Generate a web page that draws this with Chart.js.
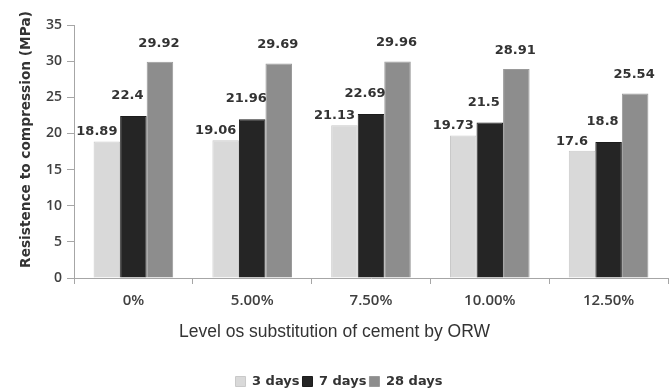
<!DOCTYPE html>
<html>
<head>
<meta charset="utf-8">
<script src="https://cdn.jsdelivr.net/npm/chart.js@4/dist/chart.umd.min.js"></script>
<style>
  html, body { margin: 0; padding: 0; background: #fff; }
  #wrap { width: 669px; height: 390px; position: relative; }
</style>
</head>
<body>
<div id="wrap"><canvas id="c"></canvas></div>
<script>
// Compressive strength by cement substitution level and curing age
const categories = ['0%', '5.00%', '7.50%', '10.00%', '12.50%'];
const seriesNames = ['3 days', '7 days', '28 days'];
const days3  = [18.89, 19.06, 21.13, 19.73, 17.6];
const days7  = [22.4, 21.96, 22.69, 21.5, 18.8];
const days28 = [29.92, 29.69, 29.96, 28.91, 25.54];
const yMin = 0, yMax = 35, yStep = 5;

const xTitle = 'Level os substitution of cement by ORW';
const yTitle = 'Resistence to compression (MPa)';

const fills   = ['#d9d9d9', '#252525', '#8d8d8d'];
const borders = ['#c9c9c9', '#1c1c1c', '#9a9a9a'];
// value label placement per series: horizontal shift and gap above bar top
const labelPlacement = [{ dx: -10, gap: 6 }, { dx: -6, gap: 17 }, { dx: -1, gap: 15 }];

const textColor = '#333333';
const axisColor = '#a6a6a6';

const valueLabels = {
  id: 'valueLabels',
  afterDatasetsDraw(chart) {
    const ctx = chart.ctx;
    ctx.save();
    ctx.font = 'bold 13px "DejaVu Sans"';
    ctx.fillStyle = textColor;
    ctx.textAlign = 'center';
    ctx.textBaseline = 'alphabetic';
    chart.data.datasets.forEach((ds, i) => {
      const meta = chart.getDatasetMeta(i);
      const p = labelPlacement[i];
      meta.data.forEach((bar, j) => {
        ctx.fillText(String(ds.data[j]), bar.x + p.dx, bar.y - p.gap);
      });
    });
    ctx.restore();
  }
};

const axisTitles = {
  id: 'axisTitles',
  afterDraw(chart) {
    const ctx = chart.ctx;
    const area = chart.chartArea;
    ctx.save();
    ctx.fillStyle = textColor;
    ctx.textAlign = 'center';
    ctx.textBaseline = 'middle';
    ctx.font = '17.5px "Liberation Sans"';
    ctx.fillText(xTitle, chart.width / 2, area.bottom + 54);
    ctx.translate(26, (area.top + area.bottom) / 2 - 12);
    ctx.rotate(-Math.PI / 2);
    ctx.font = 'bold 13.7px "DejaVu Sans"';
    ctx.fillText(yTitle, 0, 0);
    ctx.restore();
  }
};

const datasets = [days3, days7, days28].map((vals, i) => ({
  label: seriesNames[i],
  data: vals,
  backgroundColor: fills[i],
  borderColor: borders[i],
  borderWidth: 1,
  categoryPercentage: 0.67,
  barPercentage: 1.0
}));

new Chart(document.getElementById('c'), {
  type: 'bar',
  data: { labels: categories, datasets },
  options: {
    responsive: true,
    maintainAspectRatio: false,
    animation: false,
    layout: { padding: { left: 10, right: 1, top: 25, bottom: -8 } },
    plugins: {
      legend: {
        position: 'bottom',
        labels: {
          boxWidth: 10,
          boxHeight: 10,
          padding: 3,
          color: textColor,
          font: { family: '"DejaVu Sans"', size: 13, weight: 'bold' }
        }
      },
      tooltip: { enabled: false }
    },
    scales: {
      x: {
        grid: { offset: true, drawOnChartArea: false, drawTicks: true, tickLength: 6, color: axisColor },
        border: { color: axisColor },
        ticks: {
          color: '#404040',
          padding: 8,
          font: { family: '"Open Sans"', size: 15, weight: '600' }
        },
        afterFit(scale) { scale.height = 94; }
      },
      y: {
        min: yMin,
        max: yMax,
        grid: { drawOnChartArea: false, drawTicks: true, tickLength: 7, color: axisColor },
        border: { color: axisColor },
        ticks: {
          stepSize: yStep,
          color: '#404040',
          padding: 5,
          font: { family: '"Open Sans"', size: 14, weight: '600' }
        },
        afterFit(scale) { scale.width = 64; }
      }
    }
  },
  plugins: [valueLabels, axisTitles]
});
</script>
</body>
</html>
